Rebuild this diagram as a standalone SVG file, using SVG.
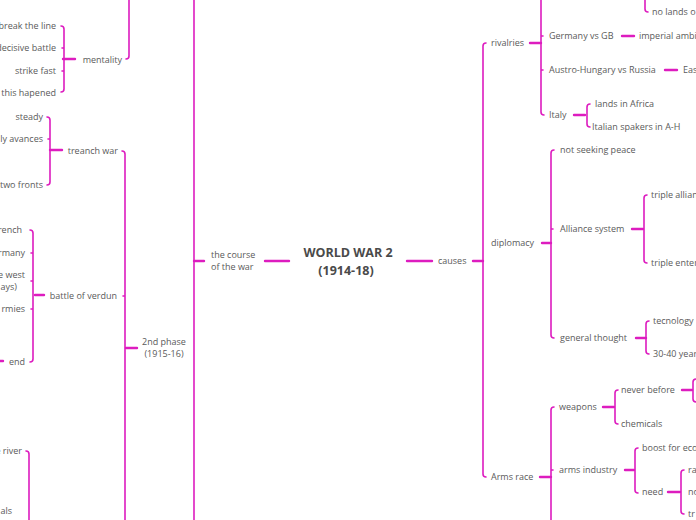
<svg xmlns="http://www.w3.org/2000/svg" width="696" height="520" viewBox="0 0 696 520">
<style>
text{font-family:"Open Sans","Noto Sans",sans-serif;font-size:9px;fill:#5a5a5a}
.e{text-anchor:end}
.m{text-anchor:middle}
.root{font-size:12.5px;font-weight:bold;fill:#4a4a4a;text-anchor:middle}
.c path{fill:none;stroke:#dd1cbf;stroke-linecap:round}
.h{stroke-width:2.4}
.b{stroke-width:1.6}
</style>
<rect width="696" height="520" fill="#fff"/>
<g class="c" id="connectors">
<path class="h" d="M407,261H432"/>
<path class="h" d="M265,261H289"/>
<path class="h" d="M473,261H483"/>
<path class="b" d="M486,43Q483,43 483,46V474Q483,477 486,477"/>
<path class="h" d="M530,43H541"/>
<path class="b" d="M541,-10V112Q541,115 544,115M541,36H543M541,70H543"/>
<path class="h" d="M622,36H634"/>
<path class="h" d="M665,70H677"/>
<path class="h" d="M574,115H585"/>
<path class="b" d="M590,104Q587,104 587,107V124Q587,127 590,127"/>
<path class="b" d="M645,-10V9Q645,12 648,12"/>
<path class="h" d="M542,243H551"/>
<path class="b" d="M554,150Q551,150 551,153V335Q551,338 554,338M551,229H553"/>
<path class="h" d="M632,229H643"/>
<path class="b" d="M647,195Q644,195 644,198V260Q644,263 647,263"/>
<path class="h" d="M636,338H646"/>
<path class="b" d="M649,321Q646,321 646,324V351Q646,354 649,354"/>
<path class="h" d="M540,477H551"/>
<path class="b" d="M554,407Q551,407 551,410V530M551,470H553"/>
<path class="h" d="M603,407H614"/>
<path class="b" d="M618,390Q615,390 615,393V421Q615,424 618,424"/>
<path class="h" d="M682,390H692"/>
<path class="b" d="M697,379Q693,379 693,382V399Q693,402 697,402"/>
<path class="h" d="M625,470H634"/>
<path class="b" d="M638,448Q635,448 635,451V490Q635,493 638,493"/>
<path class="h" d="M668,492H680"/>
<path class="b" d="M684,470Q681,470 681,473V511Q681,514 684,514"/>
<path class="h" d="M194,261H204"/>
<path class="b" d="M194,-10V530"/>
<path class="b" d="M129,-10V56Q129,59 126,59"/>
<path class="h" d="M75,59H63"/>
<path class="b" d="M61,26Q64,26 64,29V89Q64,92 61,92M64,48H62M64,71H62"/>
<path class="b" d="M122,151Q125,151 125,154V530M125,296H123"/>
<path class="h" d="M126,348H137"/>
<path class="h" d="M62,150H50"/>
<path class="b" d="M47,117Q50,117 50,120V182Q50,185 47,185M50,139H48"/>
<path class="h" d="M44,295H35"/>
<path class="b" d="M30,230Q33,230 33,233V359Q33,362 30,362M33,253H31M33,281H31M33,309H31"/>
<path class="h" d="M3,361H-5"/>
<path class="b" d="M26,451Q29,451 29,454V530"/>
</g>
<g id="root"><text class="root" x="348" y="257">WORLD WAR 2</text><text class="root" x="346" y="275">(1914-18)</text></g>
<g id="causes"><text x="438" y="264">causes</text></g>
<g id="rivalries"><text x="491" y="46">rivalries</text></g>
<g id="nolands"><text x="652" y="15">no lands o</text></g>
<g id="germany-gb"><text x="549" y="39">Germany vs GB</text></g>
<g id="imperial"><text x="639" y="39">imperial ambitions</text></g>
<g id="austro"><text x="549" y="73">Austro-Hungary vs Russia</text></g>
<g id="east"><text x="683" y="73">Eas</text></g>
<g id="italy"><text x="549" y="118">Italy</text></g>
<g id="africa"><text x="595" y="107">lands in Africa</text></g>
<g id="speakers"><text x="592" y="130">Italian spakers in A-H</text></g>
<g id="diplomacy"><text x="491" y="246">diplomacy</text></g>
<g id="peace"><text x="560" y="153">not seeking peace</text></g>
<g id="alliance"><text x="560" y="232">Alliance system</text></g>
<g id="triple-alliance"><text x="651" y="198">triple alliance</text></g>
<g id="triple-entente"><text x="651" y="266">triple entente</text></g>
<g id="general"><text x="560" y="341">general thought</text></g>
<g id="tecnology"><text x="653" y="324">tecnology</text></g>
<g id="years"><text x="653" y="357">30-40 years</text></g>
<g id="arms-race"><text x="491" y="480">Arms race</text></g>
<g id="weapons"><text x="559" y="410">weapons</text></g>
<g id="never"><text x="621" y="393">never before</text></g>
<g id="chemicals"><text x="621" y="427">chemicals</text></g>
<g id="industry"><text x="559" y="473">arms industry</text></g>
<g id="boost"><text x="642" y="451">boost for economy</text></g>
<g id="need"><text x="642" y="495">need</text></g>
<g id="need-1"><text x="688" y="473">ra</text></g>
<g id="need-2"><text x="688" y="495">no</text></g>
<g id="need-3"><text x="688" y="517">tr</text></g>
<g id="course"><text x="211" y="258">the course</text><text x="211" y="270">of the war</text></g>
<g id="phase1"><text class="m" x="163" y="-1">(1914)</text></g>
<g id="mentality"><text class="e" x="122" y="63">mentality</text></g>
<g id="m1"><text class="e" x="56" y="29">break the line</text></g>
<g id="m2"><text class="e" x="56" y="51">decisive battle</text></g>
<g id="m3"><text class="e" x="56" y="74">strike fast</text></g>
<g id="m4"><text class="e" x="56" y="96">this hapened</text></g>
<g id="trench"><text class="e" x="118" y="154">treanch war</text></g>
<g id="t1"><text class="e" x="43" y="120">steady</text></g>
<g id="t2"><text class="e" x="43" y="142">ly avances</text></g>
<g id="t3"><text class="e" x="43" y="188">two fronts</text></g>
<g id="phase2"><text class="m" x="164" y="345">2nd phase</text><text class="m" x="164" y="357">(1915-16)</text></g>
<g id="verdun"><text class="e" x="117" y="299">battle of verdun</text></g>
<g id="v1"><text class="e" x="22" y="233">rench</text></g>
<g id="v2"><text class="e" x="25" y="256">rmany</text></g>
<g id="v3"><text class="e" x="25" y="278">e west</text><text class="e" x="17" y="290">ays)</text></g>
<g id="v4"><text class="e" x="25" y="312">rmies</text></g>
<g id="v5"><text class="e" x="25" y="365">end</text></g>
<g id="river"><text class="e" x="22" y="454">e river</text></g>
<g id="als"><text class="e" x="12" y="514">als</text></g>
</svg>
